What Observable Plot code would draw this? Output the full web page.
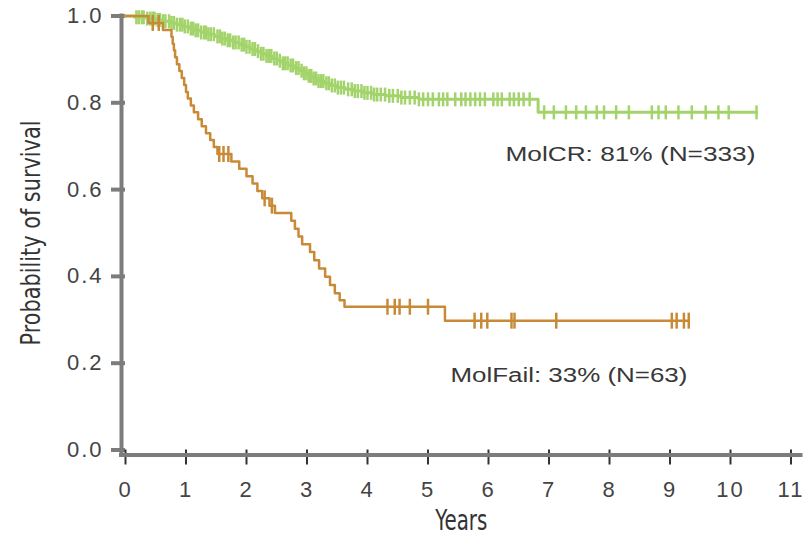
<!DOCTYPE html>
<html>
<head>
<meta charset="utf-8">
<script src="https://cdn.jsdelivr.net/npm/d3@7"></script>
<script src="https://cdn.jsdelivr.net/npm/@observablehq/plot@0.6"></script>
<style>
  html, body { margin: 0; padding: 0; background: #ffffff; }
  #chart { width: 805px; height: 550px; }
  .tick-digits text { letter-spacing: 2px; }
</style>
</head>
<body>
<div id="chart"></div>
<script>
// ---- Data ----
// MolCR (N=333): step times (years) and survival after each step; last entry = end of follow-up
const crTimes = [0, 0.15, 0.35, 0.5, 0.62, 0.75, 0.85, 0.95, 1.05, 1.15, 1.25, 1.36, 1.47, 1.58, 1.68, 1.78, 1.88, 1.97, 2.06, 2.15, 2.24, 2.33, 2.42, 2.51, 2.6, 2.69, 2.78, 2.87, 2.95, 3.03, 3.11, 3.19, 3.28, 3.38, 3.5, 3.63, 3.78, 3.93, 4.1, 4.3, 4.55, 4.85, 6.82, 10.43];
const crSurv  = [1.0, 0.997, 0.994, 0.991, 0.988, 0.984, 0.980, 0.976, 0.971, 0.967, 0.962, 0.958, 0.953, 0.948, 0.944, 0.939, 0.934, 0.929, 0.924, 0.919, 0.913, 0.908, 0.902, 0.897, 0.891, 0.886, 0.880, 0.874, 0.868, 0.862, 0.856, 0.850, 0.845, 0.840, 0.835, 0.831, 0.827, 0.823, 0.819, 0.816, 0.812, 0.808, 0.778, 0.778];
// MolCR censoring times
const crCensor = [0.18, 0.22, 0.27, 0.3, 0.36, 0.41, 0.45, 0.48, 0.53, 0.57, 0.62, 0.66, 0.72, 0.76, 0.8, 0.85, 0.9, 0.94, 0.98, 1.03, 1.08, 1.12, 1.16, 1.2, 1.25, 1.3, 1.33, 1.37, 1.41, 1.46, 1.52, 1.56, 1.6, 1.64, 1.69, 1.73, 1.78, 1.82, 1.87, 1.92, 1.96, 2.0, 2.05, 2.1, 2.14, 2.19, 2.24, 2.28, 2.33, 2.37, 2.41, 2.46, 2.5, 2.55, 2.6, 2.64, 2.68, 2.73, 2.77, 2.82, 2.86, 2.91, 2.95, 2.99, 3.03, 3.07, 3.11, 3.15, 3.19, 3.23, 3.27, 3.32, 3.36, 3.41, 3.46, 3.51, 3.56, 3.61, 3.68, 3.74, 3.79, 3.84, 3.9, 3.95, 4.0, 4.06, 4.11, 4.16, 4.22, 4.29, 4.36, 4.42, 4.5, 4.56, 4.62, 4.7, 4.78, 4.85, 4.92, 5.0, 5.08, 5.18, 5.25, 5.32, 5.45, 5.55, 5.62, 5.7, 5.78, 5.86, 5.94, 6.08, 6.15, 6.22, 6.35, 6.42, 6.5, 6.58, 6.68, 6.92, 7.08, 7.28, 7.45, 7.61, 7.79, 7.91, 8.11, 8.32, 8.7, 8.81, 8.93, 9.14, 9.36, 9.59, 9.8, 9.97, 10.43];

// MolFail (N=63)
const failTimes = [0, 0.38, 0.62, 0.76, 0.78, 0.80, 0.82, 0.85, 0.89, 0.93, 0.97, 1.0, 1.03, 1.08, 1.13, 1.2, 1.26, 1.33, 1.4, 1.46, 1.52, 1.75, 1.88, 2.0, 2.1, 2.18, 2.26, 2.38, 2.47, 2.74, 2.8, 2.86, 2.92, 3.05, 3.12, 3.2, 3.3, 3.38, 3.46, 3.54, 3.62, 5.28, 9.31];
const failSurv  = [1.0, 0.984, 0.968, 0.952, 0.936, 0.921, 0.905, 0.889, 0.873, 0.857, 0.841, 0.825, 0.81, 0.794, 0.778, 0.762, 0.746, 0.73, 0.714, 0.698, 0.682, 0.665, 0.648, 0.631, 0.614, 0.597, 0.58, 0.563, 0.546, 0.528, 0.51, 0.492, 0.474, 0.456, 0.437, 0.418, 0.399, 0.38, 0.361, 0.345, 0.33, 0.298, 0.298];
const failCensor = [0.45, 0.55, 1.55, 1.62, 1.7, 2.3, 2.42, 4.33, 4.45, 4.53, 4.7, 5.0, 5.77, 5.88, 5.98, 6.38, 6.43, 7.12, 9.03, 9.11, 9.23, 9.31];

const groupNames = ["MolCR", "MolFail"];
const groupColors = ["#a3d46c", "#c98a37"];
const labelTexts = ["MolCR: 81% (N=333)", "MolFail: 33% (N=63)"];
const labelX = [6.28, 5.37];
const labelY = [0.681, 0.172];

const xTicks = [0, 1, 2, 3, 4, 5, 6, 7, 8, 9, 10, 11];
const yTicks = [0, 0.2, 0.4, 0.6, 0.8, 1.0];
const xTitle = "Years";
const yTitle = "Probability of survival";

// ---- Build tables ----
const crLine = crTimes.map((t, i) => ({t, s: crSurv[i]}));
const failLine = failTimes.map((t, i) => ({t, s: failSurv[i]}));
function survAt(times, surv, t) {
  let s = surv[0];
  for (let i = 0; i < times.length; i++) if (times[i] <= t) s = surv[i];
  return s;
}
const crCens = crCensor.map(t => ({t, s: survAt(crTimes, crSurv, t)}));
const failCens = failCensor.map(t => ({t, s: survAt(failTimes, failSurv, t)}));
const labels = labelTexts.map((text, i) => ({text, x: labelX[i], y: labelY[i]}));

const tickSymbol = {
  draw(context, size) {
    const r = Math.sqrt(size / Math.PI);
    context.moveTo(0, -r);
    context.lineTo(0, r);
  }
};

const axisColor = "#7c7c7c";
const textColor = "#444444";
const narrow = "'Liberation Sans Narrow', 'Arial Narrow', 'DejaVu Sans Condensed', 'Liberation Sans', sans-serif";

const plot = Plot.plot({
  width: 805,
  height: 550,
  marginLeft: 125,
  marginRight: 14.5,
  marginTop: 15.5,
  marginBottom: 100.5,
  style: {fontFamily: "'Liberation Sans', Arial, sans-serif", background: "#ffffff", color: textColor},
  x: {domain: [0, 11]},
  y: {domain: [0, 1]},
  marks: [
    Plot.axisY({ticks: yTicks, tickFormat: d3.format(".1f"), tickSize: 14, tickPadding: 8, stroke: axisColor, strokeWidth: 4, fontSize: 22, label: null, fill: textColor}),
    Plot.axisX({ticks: xTicks, tickFormat: d => String(d), tickSize: 15, tickPadding: 16, stroke: "#333", strokeWidth: 2, fontSize: 22, label: null, fill: textColor}),
    Plot.ruleX([0], {dx: -4, stroke: axisColor, strokeWidth: 4, insetTop: -2, insetBottom: -7}),
    Plot.ruleY([0], {dy: 5, stroke: axisColor, strokeWidth: 4, insetLeft: -6, insetRight: -12}),
    Plot.line(crLine, {x: "t", y: "s", curve: "step-after", stroke: groupColors[0], strokeWidth: 3}),
    Plot.dot(crCens, {x: "t", y: "s", symbol: tickSymbol, r: 7, stroke: groupColors[0], strokeWidth: 2.5, fill: "none"}),
    Plot.line(failLine, {x: "t", y: "s", curve: "step-after", stroke: groupColors[1], strokeWidth: 2.5}),
    Plot.dot(failCens, {x: "t", y: "s", symbol: tickSymbol, r: 8, stroke: groupColors[1], strokeWidth: 2.5, fill: "none"}),
    Plot.text(labels, {x: "x", y: "y", text: "text", textAnchor: "start", fontSize: 20, fill: "#383838"}),
    Plot.text([yTitle], {text: d => d, frameAnchor: "left", textAnchor: "middle", rotate: -90, dx: -94, fontSize: 26, fontFamily: narrow, fill: "#333"}),
    Plot.text([xTitle], {text: d => d, frameAnchor: "bottom", dy: 80, dx: 3, fontSize: 28, fontFamily: narrow, fill: "#333"})
  ]
});
document.getElementById("chart").appendChild(plot);

// Fit text widths to the reference
const fit = {"Probability of survival": 225, "Years": 52, "MolCR: 81% (N=333)": 250, "MolFail: 33% (N=63)": 237};
d3.select(plot).selectAll("text").each(function() {
  const t = this.textContent;
  if (fit[t]) {
    this.setAttribute("textLength", fit[t]);
    this.setAttribute("lengthAdjust", "spacingAndGlyphs");
  }
});
// Wider tick digits, as in the reference
d3.select(plot).selectAll("g[aria-label='y-axis tick label'], g[aria-label='x-axis tick label']").classed("tick-digits", true);
</script>
</body>
</html>
